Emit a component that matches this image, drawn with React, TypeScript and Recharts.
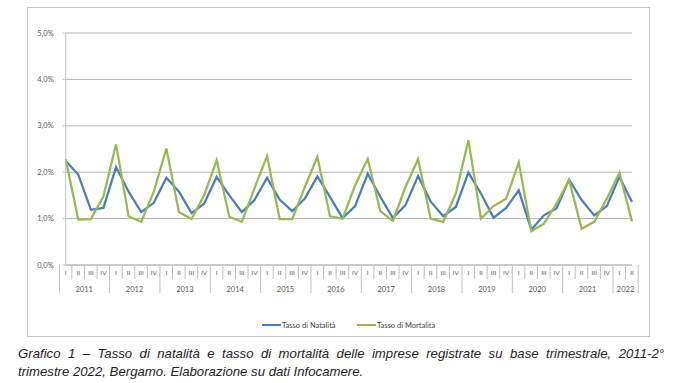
import React from 'react';
import { LineChart, Line, XAxis, YAxis, CartesianGrid } from 'recharts';

const years = ['2011', '2012', '2013', '2014', '2015', '2016', '2017', '2018', '2019', '2020', '2021', '2022'];
const quarters = ['I', 'II', 'III', 'IV'];
const yTicks = [0, 1, 2, 3, 4, 5];

const natalita = [
  2.24, 1.95, 1.19, 1.23,
  2.11, 1.58, 1.14, 1.34,
  1.88, 1.58, 1.12, 1.32,
  1.90, 1.50, 1.14, 1.40,
  1.88, 1.41, 1.16, 1.43,
  1.91, 1.47, 1.01, 1.27,
  1.97, 1.47, 1.01, 1.29,
  1.92, 1.37, 1.05, 1.25,
  1.99, 1.54, 1.02, 1.23,
  1.61, 0.76, 1.07, 1.22,
  1.84, 1.40, 1.07, 1.27,
  1.90, 1.36,
];

const mortalita = [
  2.28, 0.98, 0.99, 1.48,
  2.60, 1.05, 0.93, 1.58,
  2.51, 1.14, 0.99, 1.50,
  2.26, 1.04, 0.93, 1.65,
  2.35, 0.99, 0.99, 1.68,
  2.33, 1.05, 1.00, 1.72,
  2.29, 1.16, 0.95, 1.68,
  2.28, 1.00, 0.93, 1.54,
  2.69, 1.00, 1.27, 1.43,
  2.21, 0.73, 0.89, 1.32,
  1.83, 0.78, 0.93, 1.43,
  1.99, 0.94,
];

const captionLine1 = 'Grafico 1 – Tasso di natalità e tasso di mortalità delle imprese registrate su base trimestrale, 2011-2°';
const captionLine2 = 'trimestre 2022, Bergamo. Elaborazione su dati Infocamere.';

const data = natalita.map((n, i) => ({
  key: String(i),
  year: years[Math.floor(i / 4)],
  q: quarters[i % 4],
  natalita: n,
  mortalita: mortalita[i],
}));

const CHART_W = 680;
const CHART_H = 300;
const M_TOP = 33;
const M_RIGHT = 48;
const Y_W = 65.7;
const X_H = 35;
const AXIS_Y = CHART_H - X_H;
const BW = (CHART_W - M_RIGHT - Y_W) / data.length;
const SEP = '#bfbfbf';
const TXT = '#595959';
const FONT = 'Lato, "Open Sans", sans-serif';

const QuarterTick = (props: any) => {
  const { x, payload } = props;
  const i = payload.index;
  const d = data[i];
  if (!d) return null;
  const yearCount = data.filter((e) => e.year === d.year).length;
  const lastOfYear = i === data.length - 1 || data[i + 1].year !== d.year;
  return (
    <g>
      <text x={x} y={AXIS_Y + 10} textAnchor="middle" fontSize={6.5} fill={TXT} fontFamily={FONT}>
        {d.q}
      </text>
      <line
        x1={x + BW / 2}
        x2={x + BW / 2}
        y1={AXIS_Y}
        y2={lastOfYear ? AXIS_Y + 28 : AXIS_Y + 14}
        stroke={SEP}
        strokeWidth={1}
      />
      {i === 0 && (
        <line x1={x - BW / 2} x2={x - BW / 2} y1={AXIS_Y} y2={AXIS_Y + 28} stroke={SEP} strokeWidth={1} />
      )}
      {d.q === 'I' && (
        <text
          x={x - BW / 2 + (yearCount * BW) / 2}
          y={AXIS_Y + 27}
          textAnchor="middle"
          fontSize={7.5}
          fill={TXT}
          fontFamily={FONT}
        >
          {d.year}
        </text>
      )}
    </g>
  );
};

const fmt = (v: number) => `${v.toFixed(1).replace('.', ',')}%`;

const LegendItem = ({ color, label, left }: { color: string; label: string; left: number }) => (
  <div style={{ position: 'absolute', left, top: 320, display: 'flex', alignItems: 'center', height: 10 }}>
    <div style={{ width: 19, height: 2, background: color }} />
    <span style={{ fontFamily: FONT, fontSize: 7.5, color: '#404040', marginLeft: 1, whiteSpace: 'nowrap' }}>{label}</span>
  </div>
);

const captionStyle: React.CSSProperties = {
  position: 'absolute',
  left: 18,
  width: 646,
  fontFamily: '"Liberation Sans", Arial, sans-serif',
  fontStyle: 'italic',
  fontSize: 13.2,
  lineHeight: '18px',
  color: '#222',
  whiteSpace: 'nowrap',
};

export default function App() {
  return (
    <div style={{ position: 'absolute', left: 0, top: 0, width: 680, height: 383, background: '#fff', overflow: 'hidden' }}>
      <div
        style={{
          position: 'absolute',
          left: 27,
          top: 7,
          width: 621,
          height: 328,
          border: '1px solid #c8c8c8',
        }}
      />
      <div style={{ position: 'absolute', left: 0, top: 0 }}>
        <LineChart
          width={CHART_W}
          height={CHART_H}
          data={data}
          margin={{ top: M_TOP, right: M_RIGHT, left: 0, bottom: 0 }}
        >
          <CartesianGrid vertical={false} stroke="#b0b0b0" strokeWidth={1} />
          <XAxis
            dataKey="key"
            interval={0}
            height={X_H}
            axisLine={{ stroke: SEP }}
            tickLine={false}
            tick={<QuarterTick />}
          />
          <YAxis
            domain={[0, 5]}
            ticks={yTicks}
            width={Y_W}
            tickFormatter={fmt}
            axisLine={{ stroke: SEP }}
            tickLine={{ stroke: SEP }}
            tickSize={3}
            tickMargin={9}
            tick={{ fontSize: 7.5, fill: TXT, fontFamily: FONT }}
          />
          <Line
            type="linear"
            dataKey="natalita"
            stroke="#4a7ebb"
            strokeWidth={2.25}
            dot={false}
            isAnimationActive={false}
          />
          <Line
            type="linear"
            dataKey="mortalita"
            stroke="#98b954"
            strokeWidth={2.25}
            dot={false}
            isAnimationActive={false}
          />
        </LineChart>
      </div>
      <LegendItem color="#4a7ebb" label="Tasso di Natalità" left={262} />
      <LegendItem color="#98b954" label="Tasso di Mortalità" left={357} />
      <div
        style={{
          ...captionStyle,
          top: 345,
          whiteSpace: 'normal',
          textAlign: 'justify',
          textAlignLast: 'justify',
        }}
      >
        {captionLine1}
      </div>
      <div style={{ ...captionStyle, top: 363 }}>{captionLine2}</div>
    </div>
  );
}
